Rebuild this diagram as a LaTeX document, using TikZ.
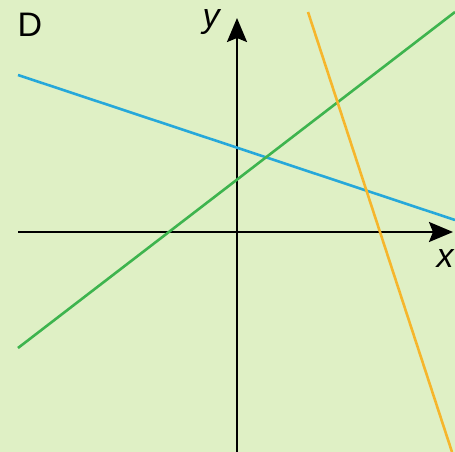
\documentclass[tikz,border=0pt]{standalone}
\usepackage{fontspec}
\setmainfont{Liberation Sans}
\usetikzlibrary{positioning,arrows.meta}
\definecolor{softbg}{RGB}{223,240,197}
\definecolor{lineblue}{RGB}{38,168,218}
\definecolor{linegreen}{RGB}{62,180,78}
\definecolor{lineorange}{RGB}{246,182,44}
\tikzset{
    axis/.style={
        draw=black,
        line width=2.4pt,
        -{Stealth[length=24pt,width=20pt,inset=4pt]}
    },
    graphline/.style={
        line width=2.6pt
    },
    axislabel/.style={
        font=\fontsize{34}{36}\selectfont\itshape,
        inner sep=0pt
    },
    tag/.style={
        font=\fontsize{34}{36}\selectfont,
        inner sep=0pt
    }
}

\begin{document}
\begin{tikzpicture}[x=1pt,y=-1pt]

\fill[softbg] (0,0) rectangle (455,452);
\useasboundingbox (0,0) rectangle (455,452);

% AXES
\coordinate (xstart) at (18,232);
\coordinate (xend) at (453,232);
\coordinate (ystart) at (237,452);
\coordinate (yend) at (237,18);

\draw[axis] (xstart) -- (xend);
\draw[axis] (ystart) -- (yend);

\node[axislabel] (xlabel) at (445,259) {x};
\node[axislabel] (ylabel) at (211,22) {y};
\node[tag] (tagD) at (30,25) {D};

% LINES
\coordinate (blueA) at (18,75);
\coordinate (blueB) at (455,220);
\coordinate (greenA) at (18,348);
\coordinate (greenB) at (455,12);
\coordinate (orangeA) at (308,12);
\coordinate (orangeB) at (452,452);

\draw[graphline, lineblue] (blueA) -- (blueB);
\draw[graphline, linegreen] (greenA) -- (greenB);
\draw[graphline, lineorange] (orangeA) -- (orangeB);

\end{tikzpicture}
\end{document}
